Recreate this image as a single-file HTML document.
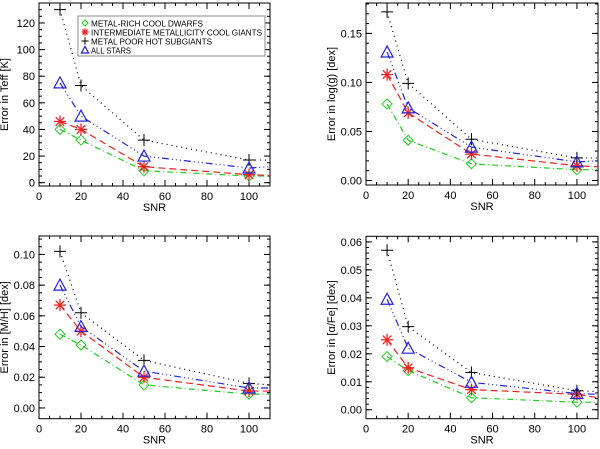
<!DOCTYPE html>
<html><head><meta charset="utf-8"><style>
body{margin:0;background:#fff}
svg text{font-family:"Liberation Sans",sans-serif;font-size:11px;fill:#000}
</style></head><body>
<svg id="c" width="600" height="444" xmlns="http://www.w3.org/2000/svg"></svg>
<script>
const snr=[10,20,50,100,110];
const seriesNames=["METAL-RICH COOL DWARFS","INTERMEDIATE METALLICITY COOL GIANTS","METAL POOR HOT SUBGIANTS","ALL STARS"];
const teffGreen=[40,32,9,5,5],teffRed=[46,40,12,6,5.5],teffBlack=[130,73,32,17,17],teffBlue=[75,50,20,11,12];
const loggGreen=[0.078,0.041,0.017,0.011,0.011],loggRed=[0.108,0.069,0.027,0.015,0.014],loggBlack=[0.172,0.099,0.042,0.023,0.023],loggBlue=[0.131,0.074,0.034,0.019,0.020];
const mhGreen=[0.048,0.041,0.015,0.009,0.009],mhRed=[0.067,0.050,0.020,0.011,0.011],mhBlack=[0.102,0.062,0.031,0.016,0.015],mhBlue=[0.080,0.053,0.024,0.013,0.013];
const afGreen=[0.019,0.014,0.0043,0.0027,0.0027],afRed=[0.025,0.015,0.0072,0.0055,0.0043],afBlack=[0.057,0.0297,0.0133,0.0068,0.0065],afBlue=[0.0395,0.022,0.0098,0.0058,0.0055];
const xTicks=[0,20,40,60,80,100];
const teffTicks=[0,20,40,60,80,100,120],loggTicks=[0,0.05,0.10,0.15],mhTicks=[0,0.02,0.04,0.06,0.08,0.10],afTicks=[0,0.01,0.02,0.03,0.04,0.05,0.06];
const NS="http://www.w3.org/2000/svg",svg=document.getElementById('c');
function mk(t,a,p){const e=document.createElementNS(NS,t);for(const k in a)e.setAttribute(k,a[k]);(p||svg).appendChild(e);return e;}
const colors=["#22cc22","#ee2222","#000","#2222dd"];
const dashes=["6,3,1,3","7,4","1,4","7,3,1,3,1,3,1,3"];
const panels=[
 {name:"teff-panel",x0:39,x1:270,y0:3,y1:186,ymin:-2.5,ymax:135,ticks:teffTicks,minor:5,dec:0,title:"Error in Teff [K]",data:[teffGreen,teffRed,teffBlack,teffBlue],legend:true},
 {name:"logg-panel",x0:366,x1:598,y0:3,y1:185,ymin:-0.0046,ymax:0.181,ticks:loggTicks,minor:0.01,dec:2,title:"Error in log(g) [dex]",data:[loggGreen,loggRed,loggBlack,loggBlue]},
 {name:"mh-panel",x0:39,x1:270,y0:236,y1:418.7,ymin:-0.007,ymax:0.112,ticks:mhTicks,minor:0.005,dec:2,title:"Error in [M/H] [dex]",data:[mhGreen,mhRed,mhBlack,mhBlue]},
 {name:"afe-panel",x0:366,x1:598,y0:236.3,y1:418.7,ymin:-0.0032,ymax:0.062,ticks:afTicks,minor:0.002,dec:2,title:"Error in [α/Fe] [dex]",data:[afGreen,afRed,afBlack,afBlue]}
];
function marker(g,k,x,y,s){
 s=s||1;const c=colors[k];
 if(k===0)mk('path',{d:`M${x-5*s} ${y}L${x} ${y-5*s}L${x+5*s} ${y}L${x} ${y+5*s}Z`,fill:'none',stroke:c,'stroke-width':1},g);
 else if(k===1){for(const a of [0,45,90,135]){const r=a*Math.PI/180;mk('line',{x1:x-6*s*Math.cos(r),y1:y-6*s*Math.sin(r),x2:x+6*s*Math.cos(r),y2:y+6*s*Math.sin(r),stroke:c,'stroke-width':1.3},g);}}
 else if(k===2){mk('path',{d:`M${x-6*s} ${y}H${x+6*s}M${x} ${y-6*s}V${y+6*s}`,stroke:c,'stroke-width':1},g);}
 else mk('path',{d:`M${x-6*s} ${y+5*s}L${x} ${y-6*s}L${x+6*s} ${y+5*s}Z`,fill:'none',stroke:c,'stroke-width':1.2},g);
}
panels.forEach(p=>{
 const g=mk('g',{});
 const X=v=>p.x0+(v-0)/(110-0)*(p.x1-p.x0);
 const Y=v=>p.y1-(v-p.ymin)/(p.ymax-p.ymin)*(p.y1-p.y0);
 mk('rect',{x:p.x0,y:p.y0,width:p.x1-p.x0,height:p.y1-p.y0,fill:'none',stroke:'#000','stroke-width':1},g);
 for(let v=0;v<=110;v+=5){const big=v%20===0,l=big?6:3;mk('line',{x1:X(v),x2:X(v),y1:p.y1,y2:p.y1-l,stroke:'#000'},g);mk('line',{x1:X(v),x2:X(v),y1:p.y0,y2:p.y0+l,stroke:'#000'},g);}
 xTicks.forEach(v=>{const t=mk('text',{x:X(v),y:p.y1+14,'text-anchor':'middle'},g);t.textContent=v;});
 const xl=mk('text',{x:(p.x0+p.x1)/2,y:p.y1+25,'text-anchor':'middle'},g);xl.textContent="SNR";
 for(let v=0;v<=p.ymax+1e-9;v+=p.minor){if(Y(v)<p.y0)break;mk('line',{x1:p.x0,x2:p.x0+3,y1:Y(v),y2:Y(v),stroke:'#000'},g);mk('line',{x1:p.x1,x2:p.x1-3,y1:Y(v),y2:Y(v),stroke:'#000'},g);}
 p.ticks.forEach(v=>{mk('line',{x1:p.x0,x2:p.x0+6,y1:Y(v),y2:Y(v),stroke:'#000'},g);mk('line',{x1:p.x1,x2:p.x1-6,y1:Y(v),y2:Y(v),stroke:'#000'},g);
  const t=mk('text',{x:p.x0-4,y:Y(v)+4,'text-anchor':'end'},g);t.textContent=v.toFixed(p.dec);});
 const yt=mk('text',{x:0,y:0,'text-anchor':'middle',transform:`translate(${p.x0-31},${(p.y0+p.y1)/2}) rotate(-90)`},g);yt.textContent=p.title;
 p.data.forEach((arr,k)=>{
  const pts=snr.map((s,i)=>X(s)+','+Y(arr[i])).join(' ');
  const pl=mk('polyline',{points:pts,fill:'none',stroke:colors[k],'stroke-width':1.2,'stroke-dasharray':dashes[k]},g);
  
  
  for(let i=0;i<4;i++)marker(g,k,X(snr[i]),Y(arr[i]));
 });
 if(p.legend){
  const lg=mk('g',{},g);
  mk('rect',{x:78,y:16,width:187,height:40,fill:'#fff',stroke:'#888','stroke-width':1},lg);
  const lens=[112,171,121,40];
  seriesNames.forEach((n,k)=>{const yy=23+k*9;marker(lg,k,85,yy,0.6);const t=mk('text',{x:91,y:yy+3.5,style:'font-size:8px',textLength:lens[k],lengthAdjust:'spacingAndGlyphs'},lg);t.textContent=n;});
 }
});
</script>
</body></html>
